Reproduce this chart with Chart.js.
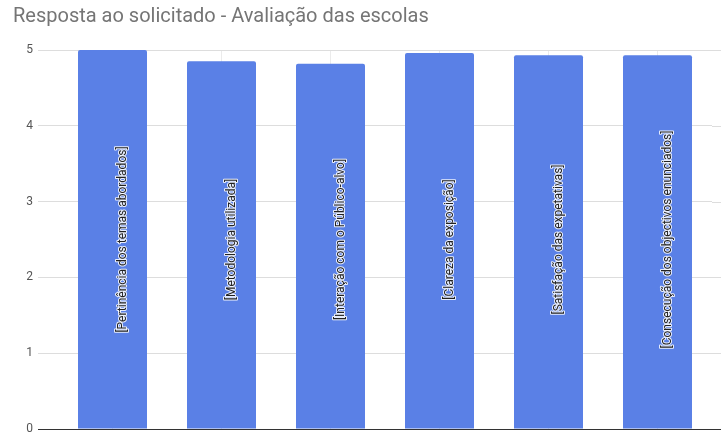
<!DOCTYPE html>
<html>
<head>
<meta charset="utf-8">
<script src="https://cdn.jsdelivr.net/npm/chart.js@4"></script>
<style>
  body { margin: 0; background: #fff; }
  #wrap { width: 721px; height: 432px; }
</style>
</head>
<body>
<div id="wrap"><canvas id="mycanvas"></canvas></div>
<script>
var categories = [
	'[Pertinência dos temas abordados]',
	'[Metodologia utilizada]',
	'[Interação com o Público-alvo]',
	'[Clareza da exposição]',
	'[Satisfação das expetativas]',
	'[Consecução dos objectivos enunciados]'
];
var scores = [5.00, 4.85, 4.82, 4.96, 4.93, 4.93];
var yTicks = [0, 1, 2, 3, 4, 5];

// rotated labels inside the bars
var barLabels = {
	id: 'barLabels',
	afterDatasetsDraw: function(chart) {
		var ctx = chart.ctx;
		var meta = chart.getDatasetMeta(0);
		var area = chart.chartArea;
		var midY = (area.top + area.bottom) / 2;
		ctx.save();
		ctx.font = '12px Roboto';
		ctx.textAlign = 'center';
		ctx.textBaseline = 'middle';
		ctx.lineJoin = 'round';
		meta.data.forEach(function(bar, i) {
			ctx.save();
			ctx.translate(bar.x + 10, midY);
			ctx.rotate(-Math.PI / 2);
			ctx.strokeStyle = 'rgba(255,255,255,0.85)';
			ctx.lineWidth = 2;
			ctx.strokeText(categories[i], 0, 0);
			ctx.fillStyle = '#222222';
			ctx.fillText(categories[i], 0, 0);
			ctx.restore();
		});
		ctx.restore();
	}
};

// stretch the horizontal gridlines to the right edge
var gridExtend = {
	id: 'gridExtend',
	beforeDatasetsDraw: function(chart) {
		var ctx = chart.ctx;
		var y = chart.scales.y;
		ctx.save();
		ctx.lineWidth = 1;
		yTicks.forEach(function(v) {
			var py = Math.round(y.getPixelForValue(v)) + 0.5;
			ctx.strokeStyle = v === 0 ? '#333333' : '#dddddd';
			ctx.beginPath();
			ctx.moveTo(chart.chartArea.right, py);
			ctx.lineTo(chart.width, py);
			ctx.stroke();
		});
		ctx.restore();
	}
};

var chartdata = {
	labels: categories,
	datasets: [{
		label: 'Resposta ao solicitado',
		backgroundColor: '#5a80e6',
		borderWidth: 0,
		borderRadius: { topLeft: 2, topRight: 2 },
		barPercentage: 0.633,
		categoryPercentage: 1,
		data: scores
	}]
};

var barGraph = new Chart(document.getElementById('mycanvas'), {
	type: 'bar',
	data: chartdata,
	plugins: [gridExtend, barLabels],
	options: {
		responsive: true,
		maintainAspectRatio: false,
		animation: false,
		layout: { padding: { left: 13, right: 9, top: 0, bottom: 2 } },
		plugins: {
			legend: { display: false },
			tooltip: { enabled: false },
			title: {
				display: true,
				text: 'Resposta ao solicitado - Avaliação das escolas',
				align: 'start',
				color: '#757575',
				font: { family: 'Roboto', size: 20, weight: 'normal' },
				padding: { top: 5, bottom: 21 }
			}
		},
		scales: {
			x: {
				afterFit: function(scale) { scale.height = 1; },
				ticks: { display: false },
				grid: { offset: false, drawTicks: false, color: '#ebebeb' },
				border: { display: true, color: '#333333' }
			},
			y: {
				min: 0,
				max: 5,
				afterFit: function(scale) {
					scale.width = 45;
					scale.paddingTop = 0;
					scale.paddingBottom = 0;
				},
				afterBuildTicks: function(scale) {
					scale.ticks = yTicks.map(function(v) { return { value: v }; });
				},
				ticks: {
					padding: 5,
					color: '#555555',
					font: { family: 'Roboto', size: 12 }
				},
				grid: {
					tickLength: 20,
					color: function(c) { return c.tick && c.tick.value === 0 ? '#333333' : '#dddddd'; }
				},
				border: { display: false }
			}
		}
	}
});
</script>
</body>
</html>
